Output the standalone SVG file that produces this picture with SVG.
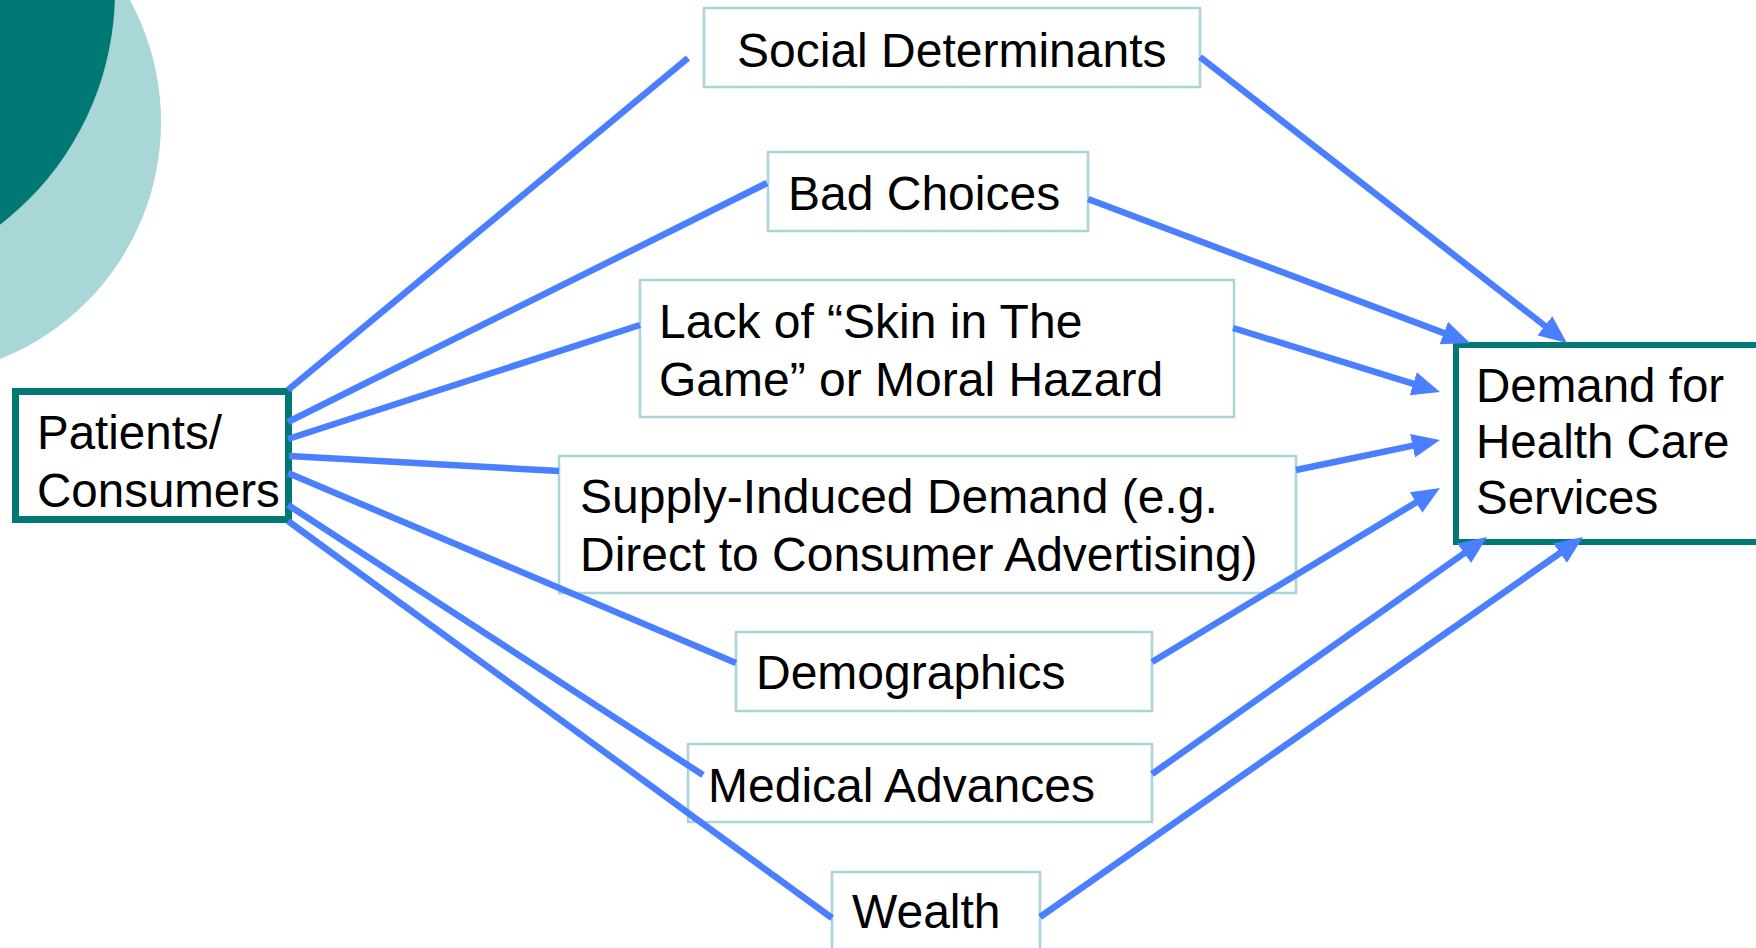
<svg xmlns="http://www.w3.org/2000/svg" width="1756" height="948" viewBox="0 0 1756 948">
<style>
.box{fill:#ffffff;stroke:#A6D6D6;stroke-width:2.5}
.main{fill:#ffffff;stroke:#007874}
.t{font-family:"Liberation Sans",Arial,sans-serif;font-size:48px;fill:#000000}
.tm{font-family:"Liberation Sans",Arial,sans-serif;font-size:47.5px;fill:#000000}
.c{stroke:#4A80FF;stroke-width:6.5;fill:none;stroke-linecap:butt}
.a{marker-end:url(#arrow)}
</style>
<defs>
<marker id="arrow" markerUnits="userSpaceOnUse" markerWidth="28" markerHeight="24" refX="8" refY="12" orient="auto">
<path d="M0,0 L28,12 L0,24 z" fill="#4A80FF"/>
</marker>
</defs>
<rect width="1756" height="948" fill="#ffffff"/>
<g id="decoration">
<circle cx="-94" cy="122" r="255" fill="#A9D6D6"/>
<circle cx="-180" cy="-9" r="295" fill="#007874"/>
</g>
<g id="patients">
<rect class="main" x="15.5" y="391.5" width="273" height="128" stroke-width="7"/>
<text class="tm" x="37" y="449">Patients/</text>
<text class="tm" x="37" y="507">Consumers</text>
</g>
<g id="social">
<rect class="box" x="704" y="8" width="496" height="79"/>
<text class="t" x="737" y="67">Social Determinants</text>
</g>
<g id="bad">
<rect class="box" x="768" y="152" width="320" height="79"/>
<text class="t" x="788" y="210">Bad Choices</text>
</g>
<g id="lack">
<rect class="box" x="640" y="280" width="594" height="137"/>
<text class="t" x="659" y="338">Lack of “Skin in The</text>
<text class="t" x="659" y="396">Game” or Moral Hazard</text>
</g>
<g id="supply">
<rect class="box" x="559" y="456" width="737" height="137"/>
<text class="t" x="580" y="513">Supply-Induced Demand (e.g.</text>
<text class="t" x="580" y="571">Direct to Consumer Advertising)</text>
</g>
<g id="demographics">
<rect class="box" x="736" y="632" width="416" height="79"/>
<text class="t" x="756" y="689">Demographics</text>
</g>
<g id="medical">
<rect class="box" x="688" y="744" width="464" height="78"/>
<text class="t" x="708" y="802">Medical Advances</text>
</g>
<g id="wealth">
<rect class="box" x="832" y="872" width="208" height="100"/>
<text class="t" x="852" y="928">Wealth</text>
</g>
<g id="demand">
<rect class="main" x="1456" y="345" width="330" height="197" stroke-width="6"/>
<text class="tm" x="1476" y="402">Demand for</text>
<text class="tm" x="1476" y="458">Health Care</text>
<text class="tm" x="1476" y="514">Services</text>
</g>
<g id="connectors">
<line class="c" x1="288" y1="390" x2="688" y2="58"/>
<line class="c" x1="288" y1="422" x2="767" y2="183"/>
<line class="c" x1="288" y1="439" x2="640" y2="325"/>
<line class="c" x1="289" y1="456" x2="559" y2="471"/>
<line class="c" x1="288" y1="473" x2="736" y2="663"/>
<line class="c" x1="288" y1="505" x2="703" y2="775"/>
<line class="c" x1="288" y1="521" x2="832" y2="918"/>
<line class="c a" x1="1200" y1="57" x2="1551.2" y2="330.7"/>
<line class="c a" x1="1088" y1="199" x2="1451.3" y2="335.9"/>
<line class="c a" x1="1233" y1="328" x2="1420.9" y2="386.1"/>
<line class="c a" x1="1296" y1="470" x2="1420.4" y2="444.1"/>
<line class="c a" x1="1152" y1="662" x2="1422.9" y2="498.3"/>
<line class="c a" x1="1152" y1="774" x2="1470.7" y2="548.6"/>
<line class="c a" x1="1040" y1="917" x2="1566.6" y2="548.5"/>
</g>
</svg>
